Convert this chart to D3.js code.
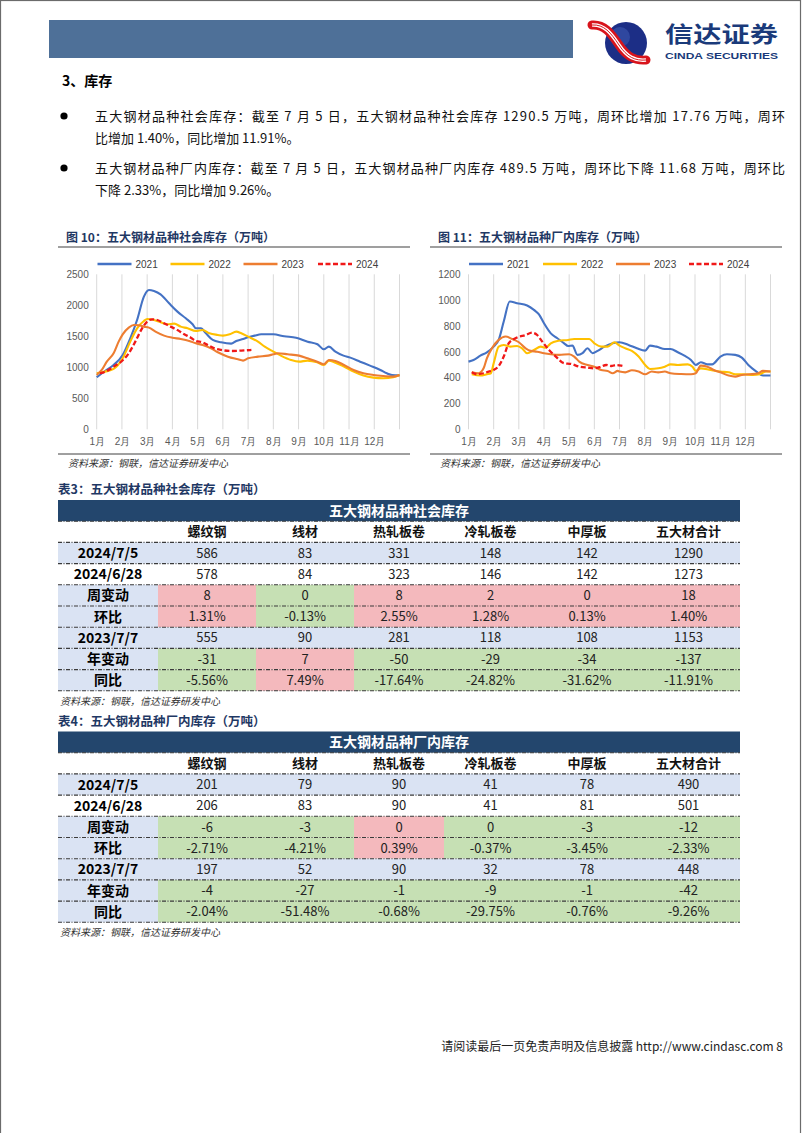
<!DOCTYPE html>
<html><head><meta charset="utf-8">
<script src="https://cdn.jsdelivr.net/npm/d3@7"></script>
<style>html,body{margin:0;padding:0;background:#fff;} svg{display:block;font-family:"Noto Sans CJK SC","Noto Sans",sans-serif;}</style>
</head><body><svg id="page" width="802" height="1133"></svg>
<script>
// ---------------- DATA ----------------
const months = ["1月","2月","3月","4月","5月","6月","7月","8月","9月","10月","11月","12月"];
const years = ["2021","2022","2023","2024"];
const socTicks = [0,500,1000,1500,2000,2500];
const facTicks = [0,200,400,600,800,1000,1200];

// social inventory, [month position, 万吨]
const soc2021 = [[1.0,839],[1.33,940],[1.67,1038],[2.03,1199],[2.33,1468],[2.6,1763],[2.87,2140],[3.07,2247],[3.27,2231],[3.53,2177],[3.87,2032],[4.2,1898],[4.53,1790],[4.8,1694],[4.93,1629],[5.13,1629],[5.33,1548],[5.6,1441],[5.93,1403],[6.33,1382],[6.53,1425],[6.8,1457],[7.0,1484],[7.26,1511],[7.52,1532],[8.0,1532],[8.43,1500],[8.9,1478],[9.36,1414],[9.75,1371],[10.0,1290],[10.2,1333],[10.46,1253],[10.78,1188],[11.05,1156],[11.44,1091],[11.83,1027],[12.24,957],[12.5,903],[12.7,876],[13.0,870]];
const soc2022 = [[1.0,903],[1.33,930],[1.67,973],[2.03,1145],[2.33,1414],[2.6,1629],[2.87,1747],[3.0,1780],[3.27,1763],[3.53,1726],[3.8,1694],[4.07,1704],[4.33,1656],[4.6,1629],[4.93,1586],[5.2,1602],[5.47,1548],[5.8,1522],[6.0,1511],[6.27,1532],[6.53,1575],[6.73,1548],[7.0,1495],[7.39,1414],[7.66,1333],[8.0,1253],[8.3,1188],[8.7,1118],[9.02,1091],[9.35,1108],[9.74,1081],[10.0,1038],[10.2,1108],[10.46,1075],[10.8,1011],[11.18,930],[11.57,866],[11.97,833],[12.36,823],[12.75,839],[13.0,876]];
const soc2023 = [[1.0,876],[1.2,957],[1.4,1091],[1.67,1226],[1.87,1414],[2.03,1532],[2.27,1640],[2.47,1683],[2.67,1677],[2.87,1656],[3.07,1640],[3.33,1575],[3.67,1511],[4.0,1478],[4.33,1457],[4.67,1425],[4.93,1387],[5.2,1360],[5.53,1306],[5.8,1242],[6.2,1172],[6.6,1129],[6.8,1108],[7.0,1145],[7.39,1172],[7.79,1188],[8.0,1210],[8.18,1226],[8.57,1210],[9.02,1188],[9.35,1145],[9.74,1091],[10.0,1048],[10.2,1118],[10.46,1102],[10.8,1038],[11.18,957],[11.57,903],[11.97,876],[12.36,860],[12.75,849],[13.0,876]];
const soc2024 = [[1.13,903],[1.4,940],[1.67,1011],[2.0,1102],[2.27,1226],[2.53,1414],[2.8,1629],[3.0,1737],[3.2,1774],[3.4,1763],[3.67,1710],[3.93,1656],[4.2,1602],[4.47,1532],[4.73,1478],[4.93,1425],[5.2,1403],[5.4,1360],[5.67,1306],[5.93,1280],[6.33,1263],[6.73,1269],[7.13,1280]];

// factory inventory
const fac2021 = [[1.0,524],[1.2,537],[1.47,570],[1.73,596],[2.0,640],[2.2,692],[2.4,834],[2.64,989],[2.93,976],[3.33,958],[3.6,924],[3.8,890],[4.0,821],[4.27,743],[4.53,705],[4.8,666],[4.96,645],[5.13,648],[5.33,576],[5.53,589],[5.73,627],[5.93,589],[6.13,607],[6.4,640],[6.73,666],[7.0,674],[7.36,653],[7.69,627],[8.02,609],[8.21,648],[8.47,640],[8.8,622],[9.03,622],[9.32,596],[9.58,570],[9.84,537],[10.03,498],[10.23,519],[10.49,503],[10.68,503],[11.01,563],[11.27,581],[11.6,576],[11.86,555],[12.12,498],[12.44,447],[12.7,416],[13.0,416]];
const fac2022 = [[1.13,426],[1.47,416],[1.73,426],[1.89,434],[2.0,511],[2.2,640],[2.4,653],[2.67,640],[2.93,645],[3.13,627],[3.33,589],[3.6,614],[3.87,640],[4.07,632],[4.27,666],[4.53,684],[4.96,692],[5.2,699],[5.8,699],[6.0,666],[6.27,640],[6.53,640],[6.8,674],[7.0,648],[7.23,627],[7.49,607],[7.76,563],[8.02,498],[8.21,467],[8.54,472],[8.8,485],[9.03,503],[9.32,498],[9.71,503],[9.9,485],[10.03,452],[10.23,472],[10.62,459],[11.01,447],[11.34,441],[11.6,426],[11.92,426],[12.31,421],[12.57,426],[12.83,447],[13.0,447]];
const fac2023 = [[1.13,441],[1.4,434],[1.6,472],[1.73,550],[1.93,627],[2.2,692],[2.47,718],[2.73,699],[3.0,674],[3.27,627],[3.47,607],[3.73,601],[4.0,589],[4.27,581],[4.6,576],[5.0,581],[5.2,563],[5.4,524],[5.73,498],[6.0,485],[6.27,459],[6.53,452],[6.73,434],[6.93,452],[7.0,447],[7.23,441],[7.49,457],[7.76,447],[8.02,426],[8.28,447],[8.54,441],[8.8,447],[9.03,434],[9.45,428],[9.84,426],[10.03,434],[10.23,493],[10.49,485],[10.75,459],[11.01,441],[11.34,416],[11.6,408],[11.86,421],[12.18,426],[12.51,434],[12.7,452],[13.0,447]];
const fac2024 = [[1.13,441],[1.33,426],[1.6,434],[1.8,447],[2.0,459],[2.2,490],[2.4,563],[2.6,666],[2.93,710],[3.27,730],[3.53,748],[3.73,730],[3.93,679],[4.2,614],[4.47,563],[4.8,511],[5.07,506],[5.4,485],[5.73,477],[6.0,472],[6.27,485],[6.47,498],[6.67,490],[6.87,498],[7.07,493],[7.14,490]];

// tables
const colNames = ["螺纹钢","线材","热轧板卷","冷轧板卷","中厚板","五大材合计"];
const socCur  = [586,83,331,148,142,1290];
const socPrev = [578,84,323,146,142,1273];
const socWChg = [8,0,8,2,0,18];
const socWPct = [1.31,-0.13,2.55,1.28,0.13,1.40];
const socLY   = [555,90,281,118,108,1153];
const socYChg = [-31,7,-50,-29,-34,-137];
const socYPct = [-5.56,7.49,-17.64,-24.82,-31.62,-11.91];

const facCur  = [201,79,90,41,78,490];
const facPrev = [206,83,90,41,81,501];
const facWChg = [-6,-3,0,0,-3,-12];
const facWPct = [-2.71,-4.21,0.39,-0.37,-3.45,-2.33];
const facLY   = [197,52,90,32,78,448];
const facYChg = [-4,-27,-1,-9,-1,-42];
const facYPct = [-2.04,-51.48,-0.68,-29.75,-0.76,-9.26];

// ---------------- DRAW ----------------
const svg = d3.select("#page");
const NAVY = "#1F3864";
const seriesColors = ["#4472C4","#FFC000","#ED7D31","#F01818"];

// page border
svg.append("rect").attr("x",0.5).attr("y",0.5).attr("width",800).attr("height",1140)
  .attr("fill","none").attr("stroke","#6b6b6b").attr("stroke-width",1.2);

// header
svg.append("rect").attr("x",49).attr("y",20).attr("width",524).attr("height",38).attr("fill","#4E7098");
const logo = svg.append("g");
logo.append("circle").attr("cx",626).attr("cy",43).attr("r",21).style("fill","#1c2e86");
logo.append("circle").attr("cx",620).attr("cy",37).attr("r",10).style("fill","#3f5db4").style("opacity",0.55);
const ribbon = "M592,25 C604,24 611,33 619,45 C627,57 635,61 646,60";
logo.append("path").attr("d",ribbon).style("fill","none").style("stroke","#d8141c").style("stroke-width",9).style("stroke-linecap","round");
logo.append("path").attr("d",ribbon).style("fill","none").style("stroke","#ffffff").style("stroke-width",3.5);
logo.append("path").attr("d",ribbon).style("fill","none").style("stroke","#d8141c").style("stroke-width",1);
svg.append("text").attr("x",665).attr("y",42).attr("font-size",22).attr("font-weight",700)
  .attr("fill","#1A3A7A").attr("textLength",113).attr("lengthAdjust","spacingAndGlyphs").text("信达证券");
svg.append("text").attr("x",665).attr("y",58.5).attr("font-size",9).attr("font-weight",700)
  .attr("font-family","Liberation Sans, Arial, sans-serif")
  .attr("fill","#1A3A7A").attr("textLength",113).attr("lengthAdjust","spacingAndGlyphs").text("CINDA SECURITIES");

// body text
svg.append("text").attr("x",62).attr("y",86).attr("font-size",14).attr("font-weight",700).text("3、库存");
const bullets = [
  {y:116, l1:"五大钢材品种社会库存：截至 7 月 5 日，五大钢材品种社会库存 1290.5 万吨，周环比增加 17.76 万吨，周环", l2:"比增加 1.40%，同比增加 11.91%。"},
  {y:168, l1:"五大钢材品种厂内库存：截至 7 月 5 日，五大钢材品种厂内库存 489.5 万吨，周环比下降 11.68 万吨，周环比", l2:"下降 2.33%，同比增加 9.26%。"}
];
bullets.forEach(b=>{
  svg.append("circle").attr("cx",64).attr("cy",b.y).attr("r",3.6).attr("fill","#000");
  svg.append("text").attr("x",95).attr("y",b.y+4.5).attr("font-size",13).attr("fill","#111")
    .attr("textLength",690).attr("lengthAdjust","spacing").text(b.l1);
  svg.append("text").attr("x",95).attr("y",b.y+26.5).attr("font-size",13).attr("fill","#111").text(b.l2);
});

// ---------------- line charts ----------------
function lineChart(o){
  const g = svg.append("g");
  g.append("text").attr("x",o.titleX).attr("y",242).attr("font-size",12).attr("font-weight",700)
    .attr("fill",NAVY).text(o.title);
  g.append("line").attr("x1",o.ruleX0).attr("x2",o.ruleX1).attr("y1",247).attr("y2",247).attr("stroke","#404040").attr("stroke-width",1.2);
  g.append("line").attr("x1",o.ruleX0).attr("x2",o.ruleX1).attr("y1",454).attr("y2",454).attr("stroke","#404040").attr("stroke-width",1);
  g.append("text").attr("x",o.titleX+2).attr("y",466.5).attr("font-size",10).attr("font-style","italic")
    .attr("fill","#333").text("资料来源：钢联，信达证券研发中心");

  const x = d3.scaleLinear().domain([1,13]).range(o.xr);
  const y = d3.scaleLinear().domain([0,o.ymax]).range([429.3,274.3]);

  g.append("g").selectAll("line").data(d3.range(1,14)).join("line")
    .attr("x1",d=>x(d)).attr("x2",d=>x(d)).attr("y1",y(o.ymax)).attr("y2",y(0))
    .attr("stroke","#D9D9D9").attr("stroke-width",1);

  const ya = g.append("g").attr("transform",`translate(${x(1)-8},0)`)
    .call(d3.axisLeft(y).tickValues(o.ticks).tickFormat(d3.format("d")).tickSize(0).tickPadding(0));
  ya.select(".domain").remove();
  ya.selectAll("text").attr("font-size",10).attr("fill","#595959").attr("font-family","Liberation Sans, Arial, sans-serif");

  const xa = g.append("g").attr("transform",`translate(0,${y(0)+8})`)
    .call(d3.axisBottom(x).tickValues(d3.range(1,13)).tickFormat(d=>months[d-1]).tickSize(0).tickPadding(0));
  xa.select(".domain").remove();
  xa.selectAll("text").attr("font-size",10).attr("fill","#595959").attr("dy","0.72em");

  const line = d3.line().x(d=>x(d[0])).y(d=>y(d[1])).curve(d3.curveMonotoneX);
  o.series.forEach((s,i)=>{
    g.append("path").datum(s).attr("d",line).attr("fill","none")
      .attr("stroke",seriesColors[i]).attr("stroke-width",i===3?2.3:2.1)
      .attr("stroke-dasharray",i===3?"5,2.5":null).attr("stroke-linejoin","round");
  });

  const lg = g.append("g");
  years.forEach((yr,i)=>{
    const lx = o.legX[i];
    lg.append("line").attr("x1",lx).attr("x2",lx+34).attr("y1",264).attr("y2",264)
      .attr("stroke",seriesColors[i]).attr("stroke-width",2.3).attr("stroke-dasharray",i===3?"5,2.5":null);
    lg.append("text").attr("x",lx+38).attr("y",267.5).attr("font-size",10).attr("fill","#404040")
      .attr("font-family","Liberation Sans, Arial, sans-serif").text(yr);
  });
}

lineChart({title:"图 10：五大钢材品种社会库存（万吨）", titleX:66, ruleX0:58, ruleX1:410,
  xr:[96.7,399.5], ymax:2500, ticks:socTicks, series:[soc2021,soc2022,soc2023,soc2024],
  legX:[97.5,170.5,243.5,318]});
lineChart({title:"图 11：五大钢材品种厂内库存（万吨）", titleX:438, ruleX0:430, ruleX1:782,
  xr:[468.5,770.5], ymax:1200, ticks:facTicks, series:[fac2021,fac2022,fac2023,fac2024],
  legX:[469,543,616,689]});

// ---------------- tables ----------------
const edges = [58,158,256,354,444,537,637,740];
const BLUE_BG = "#DAE3F3", PINK = "#F4B9BD", GREEN = "#C6E0B4";
const fmtPct = v => v.toFixed(2)+"%";

function table(o){
  const g = svg.append("g");
  g.append("text").attr("x",58).attr("y",o.top-6).attr("font-size",12.5).attr("font-weight",700)
    .attr("fill",NAVY).text(o.title);
  const rh = o.rh;
  g.append("rect").attr("x",edges[0]).attr("y",o.top).attr("width",edges[7]-edges[0]).attr("height",rh).attr("fill","#23466D");
  g.append("text").attr("x",(edges[0]+edges[7])/2).attr("y",o.top+rh/2).attr("dy","0.36em").attr("text-anchor","middle")
    .attr("font-size",14).attr("font-weight",700).attr("fill","#fff").text(o.head);

  const hy = o.top+rh;
  g.selectAll("text.ch").data(colNames).join("text").attr("class","ch")
    .attr("x",(d,i)=>(edges[i+1]+edges[i+2])/2).attr("y",hy+rh/2).attr("dy","0.36em")
    .attr("text-anchor","middle").attr("font-size",13).attr("font-weight",700).attr("fill","#111").text(d=>d);

  o.rows.forEach((r,ri)=>{
    const ry = hy + rh*(ri+1);
    if(r.band){
      g.append("rect").attr("x",edges[0]).attr("y",ry).attr("width",edges[7]-edges[0]).attr("height",rh).attr("fill",BLUE_BG);
    }
    if(r.sign){
      g.append("rect").attr("x",edges[0]).attr("y",ry).attr("width",edges[1]-edges[0]).attr("height",rh).attr("fill",BLUE_BG);
      r.sign.forEach((s,ci)=>{
        g.append("rect").attr("x",edges[ci+1]).attr("y",ry).attr("width",edges[ci+2]-edges[ci+1]).attr("height",rh)
          .attr("fill", s>=0?PINK:GREEN);
      });
    }
    g.append("text").attr("x",(edges[0]+edges[1])/2).attr("y",ry+rh/2).attr("dy","0.36em").attr("text-anchor","middle")
      .attr("font-size",14).attr("font-weight",700).attr("fill","#000").text(r.label);
    r.vals.forEach((v,ci)=>{
      g.append("text").attr("x",(edges[ci+1]+edges[ci+2])/2).attr("y",ry+rh/2).attr("dy","0.36em").attr("text-anchor","middle")
        .attr("font-size",13).attr("fill","#222").text(r.fmt?r.fmt(v):v);
    });
  });
  const nLines = o.rows.length+2;
  g.selectAll("line.sep").data(d3.range(1,nLines+1)).join("line").attr("class","sep")
    .attr("x1",edges[0]).attr("x2",edges[7]).attr("y1",d=>o.top+rh*d).attr("y2",d=>o.top+rh*d)
    .attr("stroke","#3a3a3a").attr("stroke-width",1.1).attr("stroke-dasharray","4,1.5,1,1.5");
  g.append("text").attr("x",60).attr("y",o.top+rh*nLines+14).attr("font-size",10).attr("font-style","italic")
    .attr("fill","#333").text("资料来源：钢联，信达证券研发中心");
}

table({top:500, rh:21.2, title:"表3：五大钢材品种社会库存（万吨）", head:"五大钢材品种社会库存",
  rows:[
    {label:"2024/7/5", vals:socCur, band:true},
    {label:"2024/6/28", vals:socPrev},
    {label:"周变动", vals:socWChg, sign:socWPct},
    {label:"环比", vals:socWPct, sign:socWPct, fmt:fmtPct},
    {label:"2023/7/7", vals:socLY, band:true},
    {label:"年变动", vals:socYChg, sign:socYPct},
    {label:"同比", vals:socYPct, sign:socYPct, fmt:fmtPct}
  ]});
table({top:731.5, rh:21.2, title:"表4：五大钢材品种厂内库存（万吨）", head:"五大钢材品种厂内库存",
  rows:[
    {label:"2024/7/5", vals:facCur, band:true},
    {label:"2024/6/28", vals:facPrev},
    {label:"周变动", vals:facWChg, sign:facWPct},
    {label:"环比", vals:facWPct, sign:facWPct, fmt:fmtPct},
    {label:"2023/7/7", vals:facLY, band:true},
    {label:"年变动", vals:facYChg, sign:facYPct},
    {label:"同比", vals:facYPct, sign:facYPct, fmt:fmtPct}
  ]});

// footer
svg.append("text").attr("x",783).attr("y",1051).attr("text-anchor","end").attr("font-size",12).attr("fill","#222")
  .text("请阅读最后一页免责声明及信息披露 http://www.cindasc.com  8");
</script></body></html>
